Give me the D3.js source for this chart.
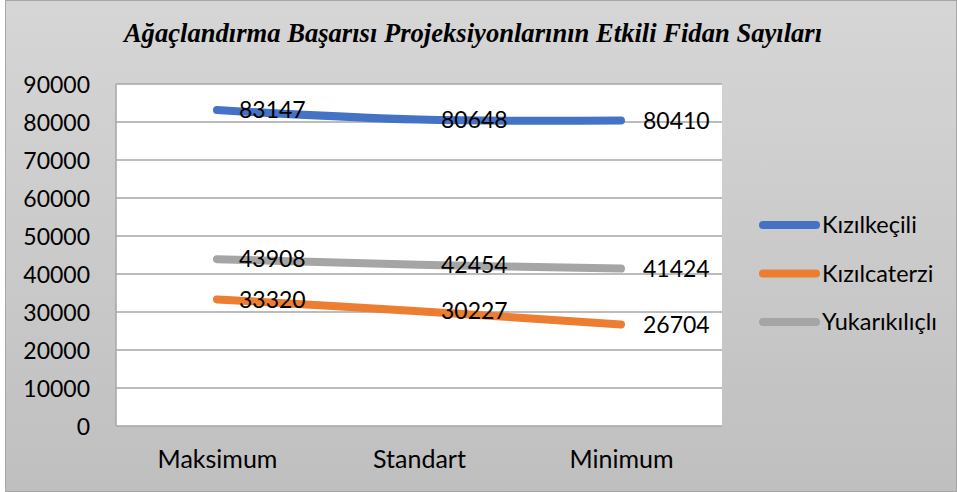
<!DOCTYPE html>
<html>
<head>
<meta charset="utf-8">
<script src="https://cdn.jsdelivr.net/npm/d3@7"></script>
<style>
  body { margin: 0; background: #fff; }
  svg { display: block; }
  .tick text { font-family: Lato, "Open Sans", sans-serif; }
</style>
</head>
<body>
<div id="chart"></div>
<script>
// data
const categories = ["Maksimum", "Standart", "Minimum"];
const seriesNames = ["Kızılkeçili", "Kızılcaterzi", "Yukarıkılıçlı"];
const kizilkecili = [83147, 80648, 80410];
const kizilcaterzi = [33320, 30227, 26704];
const yukarikilicli = [43908, 42454, 41424];
const yTicks = [0, 10000, 20000, 30000, 40000, 50000, 60000, 70000, 80000, 90000];
const colors = ["#4472C4", "#ED7D31", "#A5A5A5"];
const title = "Ağaçlandırma Başarısı Projeksiyonlarının Etkili Fidan Sayıları";

const series = [kizilkecili, kizilcaterzi, yukarikilicli].map(function(vals, i) {
  return { name: seriesNames[i], color: colors[i], values: vals };
});

const width = 957, height = 492;
const plot = { left: 116, top: 84, right: 722, bottom: 426 };

const svg = d3.select("#chart").append("svg")
  .attr("width", width)
  .attr("height", height);

// background gradient
const grad = svg.append("defs").append("linearGradient")
  .attr("id", "bg").attr("x1", 0).attr("y1", 0).attr("x2", 0).attr("y2", 1);
grad.append("stop").attr("offset", "0%").attr("stop-color", "#d6d6d6");
grad.append("stop").attr("offset", "100%").attr("stop-color", "#bfbfbf");

svg.append("rect")
  .attr("x", 5.5).attr("y", 0.5)
  .attr("width", width - 6).attr("height", height - 1)
  .attr("fill", "url(#bg)")
  .attr("stroke", "#a6a6a6");

// title
svg.append("text")
  .attr("x", 473).attr("y", 42)
  .attr("text-anchor", "middle")
  .style("font-family", "'Liberation Serif', 'Times New Roman', serif")
  .style("font-weight", "bold")
  .style("font-style", "italic")
  .style("font-size", "26.6px")
  .text(title);

// scales
const x = d3.scalePoint()
  .domain(categories)
  .range([plot.left, plot.right])
  .padding(0.5);
const y = d3.scaleLinear()
  .domain([0, 90000])
  .range([plot.bottom, plot.top]);

// plot area
svg.append("rect")
  .attr("x", plot.left).attr("y", plot.top)
  .attr("width", plot.right - plot.left)
  .attr("height", plot.bottom - plot.top)
  .attr("fill", "#fff");

// gridlines
svg.append("g")
  .selectAll("line")
  .data(yTicks)
  .enter()
  .append("line")
  .attr("x1", plot.left).attr("x2", plot.right)
  .attr("y1", function(d) { return y(d); })
  .attr("y2", function(d) { return y(d); })
  .attr("stroke", "#a6a6a6")
  .attr("stroke-width", 1.5);

svg.append("line")
  .attr("x1", plot.left).attr("x2", plot.left)
  .attr("y1", plot.top).attr("y2", plot.bottom)
  .attr("stroke", "#a6a6a6")
  .attr("stroke-width", 1.5);

// y axis
const yAxis = svg.append("g")
  .attr("transform", "translate(" + (plot.left - 26) + ",0)")
  .call(d3.axisLeft(y).tickValues(yTicks).tickSize(0).tickPadding(0).tickFormat(d3.format("d")));
yAxis.select(".domain").remove();
yAxis.selectAll("text")
  .style("font-size", "23px")
  .attr("fill", "#000")
  .attr("text-anchor", "end")
  .attr("dy", "0.36em");

// x axis
const xAxis = svg.append("g")
  .attr("transform", "translate(0," + plot.bottom + ")")
  .call(d3.axisBottom(x).tickSize(0).tickPadding(24));
xAxis.select(".domain").remove();
xAxis.selectAll("text")
  .style("font-size", "25px")
  .attr("fill", "#000");

// lines
const line = d3.line()
  .x(function(d, i) { return x(categories[i]); })
  .y(function(d) { return y(d); })
  .curve(d3.curveCatmullRom.alpha(0.5));

svg.append("g")
  .selectAll("path")
  .data(series)
  .enter()
  .append("path")
  .attr("d", function(d) { return line(d.values); })
  .attr("fill", "none")
  .attr("stroke", function(d) { return d.color; })
  .attr("stroke-width", 8)
  .attr("stroke-linecap", "round")
  .attr("stroke-linejoin", "round");

// data labels
series.forEach(function(s) {
  svg.append("g")
    .selectAll("text")
    .data(s.values)
    .enter()
    .append("text")
    .attr("x", function(d, i) { return x(categories[i]) + 22; })
    .attr("y", function(d) { return y(d); })
    .attr("dy", "0.36em")
    .style("font-family", "Lato, 'Open Sans', sans-serif")
    .style("font-size", "23px")
    .text(function(d) { return d; });
});

// legend
const legend = svg.append("g")
  .selectAll("g")
  .data(series)
  .enter()
  .append("g")
  .attr("transform", function(d, i) { return "translate(760," + (225 + i * 48.5) + ")"; });
legend.append("line")
  .attr("x1", 3).attr("x2", 56)
  .attr("stroke", function(d) { return d.color; })
  .attr("stroke-width", 8)
  .attr("stroke-linecap", "round");
legend.append("text")
  .attr("x", 62)
  .attr("dy", "0.36em")
  .style("font-family", "Lato, 'Open Sans', sans-serif")
  .style("font-size", "23.5px")
  .text(function(d) { return d.name; });
</script>
</body>
</html>
